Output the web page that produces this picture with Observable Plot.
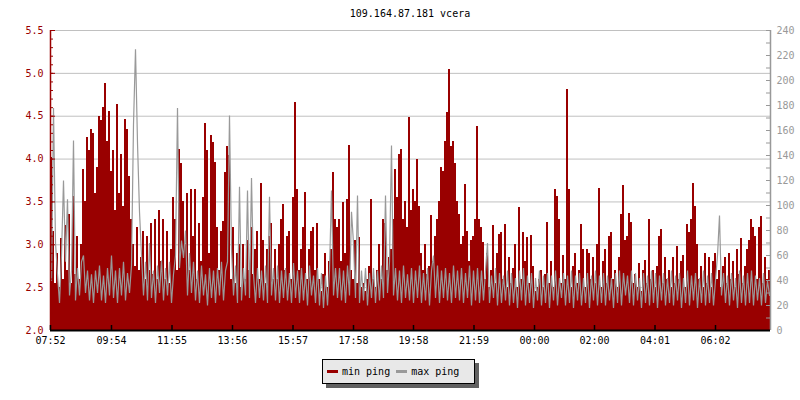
<!DOCTYPE html>
<html><head><meta charset="utf-8">
<script src="https://cdn.jsdelivr.net/npm/d3@7"></script>
<script src="https://cdn.jsdelivr.net/npm/@observablehq/plot@0.6"></script>
<style>
body{margin:0;background:#fff;font-family:"DejaVu Sans Mono",monospace;}
#wrap{position:relative;width:800px;height:400px;}
#title{position:absolute;left:50px;width:720px;top:8px;text-align:center;font-size:10px;line-height:12px;color:#000;white-space:pre}
#legend{position:absolute;left:322px;top:359px;width:153px;height:25px;box-sizing:border-box;border:1px solid #000;background:#e8e8e8;box-shadow:4px 4px 0 #606060;display:flex;align-items:center;font-size:10px;color:#000;padding-left:4px;white-space:pre}
.sw{display:inline-block;width:11px;height:3px;margin-right:4px}
.item{display:flex;align-items:center;margin-right:6px}
</style></head>
<body><div id="wrap"><div id="chart"></div><div id="title"></div><div id="legend"></div></div>
<script>
const title = "109.164.87.181 vcera";
const seriesNames = ["min ping", "max ping"];
const seriesColors = ["#990000", "#999999"];
const tickLabels = ["07:52","09:54","11:55","13:56","15:57","17:58","19:58","21:59","00:00","02:00","04:01","06:02"];
const startLabel = "07:52";
const stepMinutes = 4;
const leftTicks = [2.0, 2.5, 3.0, 3.5, 4.0, 4.5, 5.0, 5.5];
const rightTicks = [0, 20, 40, 60, 80, 100, 120, 140, 160, 180, 200, 220, 240];

// min ping (ms, left axis), one value per 4 minutes
const minPing = [
4.02,3.15,2.55,2.9,2.5,3.07,2.6,3.22,2.7,3.35,
2.55,3.56,2.65,3.1,2.6,3.0,3.88,3.5,4.25,4.1,
4.35,4.3,3.6,3.9,4.5,4.45,4.6,4.88,4.2,4.55,
3.85,4.1,3.4,4.64,3.6,4.05,3.45,4.46,4.35,3.8,
3.3,3.0,2.75,3.2,2.7,2.85,3.15,2.6,3.1,2.7,
3.25,2.65,3.3,2.6,3.4,2.8,3.3,2.6,3.15,2.55,
2.95,3.55,3.3,2.7,4.11,3.95,3.5,3.0,3.6,2.7,3.65,3.1,
3.65,2.6,3.25,2.8,3.55,4.41,4.1,2.9,4.27,4.19,
3.96,3.2,2.7,3.15,3.27,3.84,4.15,4.04,2.6,3.2,
2.55,2.9,3.0,2.5,3.0,2.6,3.05,2.7,3.2,2.65,
2.95,3.15,2.6,3.71,3.05,2.55,2.95,3.1,3.25,2.6,
2.95,2.6,3.0,3.3,3.47,2.7,3.1,3.15,2.6,3.55,
4.66,3.64,2.7,2.95,3.2,3.61,2.6,2.95,3.15,3.2,
2.7,3.25,2.6,2.45,2.65,2.9,2.5,2.8,2.95,3.84,3.3,3.2,
3.3,2.8,3.49,2.9,3.53,4.16,2.7,2.6,3.05,2.55,
3.09,2.5,2.55,2.45,2.6,2.75,3.53,2.6,2.5,2.7,
3.0,2.6,3.3,3.25,2.7,2.85,2.95,3.3,3.88,3.55,
4.05,4.11,3.3,3.5,3.2,4.48,3.4,3.65,3.5,3.99,
3.45,2.9,2.7,3.0,2.65,2.75,3.34,2.8,3.1,3.3,
3.5,3.9,3.85,4.2,4.54,5.05,4.15,4.2,3.95,3.5,
3.35,3.0,3.1,3.7,3.15,2.8,3.05,3.1,3.3,4.38,3.3,3.2,
3.03,2.6,2.9,2.5,2.7,3.23,2.55,2.9,3.12,3.14,
2.6,3.24,2.5,2.85,2.55,2.72,3.0,2.5,3.43,2.6,
3.14,2.8,3.09,2.55,3.11,2.75,2.45,2.5,2.6,2.7,
2.5,2.65,3.26,2.55,2.8,2.5,3.64,3.56,3.3,2.55,
2.87,2.6,4.81,3.65,2.5,2.75,2.9,2.55,2.7,3.24,
2.95,2.5,2.95,2.9,2.6,2.85,2.55,3.0,3.66,2.5,
2.8,2.95,2.55,3.1,3.14,2.6,2.7,2.5,2.85,3.35,3.69,3.05,
3.1,3.36,3.26,2.55,2.65,2.5,2.78,2.45,2.7,2.82,
2.55,3.29,2.6,2.7,2.5,2.75,3.1,3.18,2.55,2.85,
2.6,2.7,2.5,2.85,2.55,2.98,2.6,2.8,2.88,2.5,
3.24,3.14,3.3,3.72,3.45,3.0,2.6,2.75,2.5,2.9,
2.55,2.85,2.5,2.8,2.9,2.6,2.7,2.5,2.75,2.85,
2.55,2.9,2.6,2.8,2.5,2.95,2.65,3.07,2.55,2.75,
2.95,3.05,3.3,3.2,3.1,2.6,3.2,3.33,2.55,2.85,2.6,2.7
];

// max ping (ms, right axis), one value per 4 minutes
const maxPing = [
40,178,70,45,22,60,120,55,105,28,
48,152,24,50,28,55,60,30,48,24,
45,22,48,30,52,24,44,22,50,28,
60,26,48,22,50,28,55,24,46,30,
52,165,225,150,95,60,28,55,24,70,
26,48,22,52,30,56,24,50,28,55,
22,45,60,178,50,72,58,80,28,62,30,55,
24,48,22,52,28,45,20,50,26,48,
22,50,28,55,24,48,55,172,65,28,
52,22,115,24,50,28,112,26,122,45,
22,50,26,48,24,52,22,107,28,50,
24,52,22,48,26,50,24,46,22,54,
26,48,22,50,24,46,20,52,28,44,
22,50,20,46,18,44,20,48,112,28,50,26,
50,24,48,22,52,28,95,70,26,108,
22,48,24,50,20,46,26,50,22,48,
24,52,26,108,30,55,148,28,50,24,
48,22,52,26,45,24,50,22,48,26,
52,22,46,24,50,20,48,60,26,52,
22,48,26,50,24,46,22,52,26,48,
24,50,22,46,26,52,20,48,24,50,22,48,
24,48,70,22,44,26,50,20,46,22,
44,24,48,20,46,22,42,18,48,24,
50,20,44,22,46,18,42,24,48,20,
44,22,46,18,44,24,48,20,42,26,
46,20,44,22,48,18,44,24,46,20,
42,22,46,18,44,24,48,20,44,22,
46,20,44,24,42,18,46,22,48,20,46,28,
44,22,48,20,46,24,42,18,46,22,
44,20,48,22,46,18,44,24,46,20,
42,22,48,20,44,24,46,18,42,22,
48,20,44,24,46,18,42,22,48,20,
44,22,46,20,40,60,92,28,46,22,
44,20,46,24,42,18,48,22,44,20,
46,22,48,20,44,24,42,20,46,22,40,28
];

const RED = seriesColors[0], GRAY = seriesColors[1];
const toMin = s => { const [h, m] = s.split(":").map(Number); return h * 60 + m; };
const start = toMin(startLabel);
const tickMinutes = tickLabels.map(l => (toMin(l) - start + 1440) % 1440);
const labelOf = new Map(tickMinutes.map((t, i) => [t, tickLabels[i]]));
const span = minPing.length * stepMinutes;
const yMin = leftTicks[0], yMax = leftTicks[leftTicks.length - 1];
const rMax = rightTicks[rightTicks.length - 1];
const msToY = ms => yMin + ms * (yMax - yMin) / rMax;

const data = minPing.map((v, i) => ({
  t0: i * stepMinutes, t1: (i + 1) * stepMinutes, tm: i * stepMinutes + stepMinutes / 2,
  min: v, max: msToY(maxPing[i])
}));
const leftMinor = d3.range(20, 56).map(d => d / 10);
const rightMinor = d3.range(0, rMax + 1, 10).map(msToY);

const W = 800, H = 400, ML = 50, MR = 30, MT = 30, MB = 70;
const PW = W - ML - MR, PH = H - MT - MB;

const chart = Plot.plot({
  width: W, height: H,
  marginLeft: ML, marginRight: MR, marginTop: MT, marginBottom: MB,
  x: {domain: [0, span]},
  y: {domain: [yMin, yMax]},
  style: {fontFamily: "'DejaVu Sans Mono', monospace", fontSize: "10px", background: "white"},
  marks: [
    Plot.ruleY(leftTicks.slice(1), {stroke: "#c0c0c0", strokeWidth: 1}),
    Plot.rect(data, {x1: "t0", x2: "t1", y1: yMin, y2: "min", fill: RED, shapeRendering: "crispEdges"}),
    Plot.line(data, {x: "tm", y: "max", stroke: GRAY, strokeWidth: 1.2, curve: "linear", strokeLinejoin: "miter", strokeMiterlimit: 1}),
    Plot.ruleX([0], {stroke: RED, strokeWidth: 1.5}),
    Plot.ruleX([span], {stroke: GRAY, strokeWidth: 1.5}),
    Plot.ruleY(leftMinor, {stroke: RED, insetRight: PW - 3}),
    Plot.ruleY(leftTicks, {stroke: RED, insetRight: PW - 5}),
    Plot.ruleY(rightMinor, {stroke: GRAY, insetLeft: PW - 4}),
    Plot.ruleY([yMin], {stroke: "black", strokeWidth: 2}),
    Plot.ruleX(tickMinutes, {stroke: "black", strokeWidth: 1.5, insetTop: PH - 5}),
    Plot.axisY({anchor: "left", ticks: leftTicks, tickFormat: d => d.toFixed(1), tickSize: 0, tickPadding: 7, color: RED, label: null}),
    Plot.axisY({anchor: "right", ticks: rightTicks.map(msToY), tickFormat: d => String(Math.round((d - yMin) * rMax / (yMax - yMin))), tickSize: 0, tickPadding: 6, color: GRAY, label: null}),
    Plot.axisX({ticks: tickMinutes, tickFormat: d => labelOf.get(d), tickSize: 0, tickPadding: 6, color: "black", label: null})
  ]
});
document.getElementById("chart").appendChild(chart);
document.getElementById("title").textContent = title;
const leg = document.getElementById("legend");
seriesNames.forEach((n, i) => {
  const it = document.createElement("span"); it.className = "item";
  const sw = document.createElement("span"); sw.className = "sw"; sw.style.background = seriesColors[i];
  const tx = document.createElement("span"); tx.textContent = n;
  it.appendChild(sw); it.appendChild(tx); leg.appendChild(it);
});
</script>
</body></html>
